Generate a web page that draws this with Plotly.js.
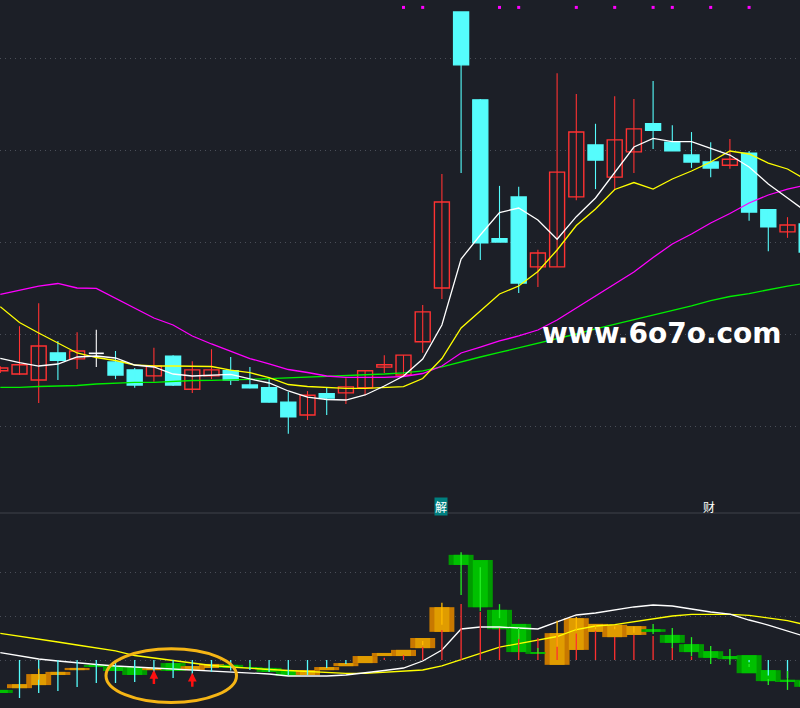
<!DOCTYPE html>
<html><head><meta charset="utf-8">
<script src="https://cdn.plot.ly/plotly-3.0.1.min.js"></script>
<style>html,body{margin:0;padding:0;background:#1c1f27;}#chart{width:800px;height:708px;}</style>
</head><body><div id="chart"></div>
<script>
// ---- data ----
const days = [0,1,2,3,4,5,6,7,8,9,10,11,12,13,14,15,16,17,18,19,20,21,22,23,24,25,26,27,28,29,30,31,32,33,34,35,36,37,38,39,40,41,42];
const openP  = [9.20,9.13,9.00,9.59,9.46,9.58,9.39,9.22,9.09,9.52,8.80,9.09,9.20,8.89,8.83,8.52,8.24,8.70,8.72,8.83,9.28,9.11,9.83,11.00,17.00,15.09,12.07,12.98,11.46,11.46,12.98,14.11,13.41,13.96,14.57,14.17,13.89,13.74,13.67,13.93,12.70,12.22,12.39];
const closeP = [9.26,9.33,9.74,9.43,9.63,9.58,9.11,8.89,9.30,8.89,9.22,9.22,9.00,8.83,8.52,8.20,8.67,8.61,8.85,9.20,9.33,9.54,10.48,12.87,15.85,11.98,12.00,11.11,11.76,13.52,14.39,13.78,14.22,14.46,14.43,13.98,13.74,13.61,13.80,12.65,12.33,12.37,11.78];
const highP  = [9.30,10.17,10.67,9.85,10.04,10.09,9.63,9.26,9.70,9.54,9.41,9.67,9.50,9.28,9.04,8.74,8.76,8.85,9.04,9.20,9.54,9.54,10.63,13.48,17.00,15.11,13.22,13.20,11.83,15.67,15.22,14.57,15.17,15.11,15.50,14.54,14.39,14.17,14.24,13.98,12.70,12.54,12.52];
const lowP   = [9.15,9.11,8.50,9.00,9.24,9.28,9.02,8.83,8.96,8.87,8.72,9.02,8.89,8.82,8.51,7.83,8.13,8.24,8.48,8.67,9.15,9.11,9.59,10.76,13.50,11.61,12.00,10.89,11.02,11.46,12.91,13.15,13.13,13.50,14.02,13.98,13.61,13.41,13.59,12.46,11.80,12.09,11.65];

const ma5  = [9.472,9.376,9.304,9.348,9.500,9.522,9.478,9.326,9.283,9.130,9.087,9.098,9.124,9.022,8.935,8.761,8.630,8.576,8.565,8.674,8.870,9.087,9.457,10.196,11.630,12.152,12.641,12.739,12.478,12.059,12.550,12.957,13.522,14.065,14.254,14.180,14.180,14.043,13.891,13.630,13.261,12.957,12.652];
const ma10 = [10.593,10.250,10.022,9.804,9.587,9.489,9.424,9.326,9.304,9.304,9.304,9.293,9.217,9.159,9.054,8.902,8.859,8.833,8.820,8.820,8.841,8.854,9.033,9.467,10.130,10.500,10.870,11.043,11.359,11.826,12.359,12.717,13.141,13.293,13.152,13.370,13.543,13.739,13.978,13.913,13.717,13.587,13.348];
const ma20 = [10.863,10.957,11.043,11.098,11.000,10.993,10.783,10.565,10.348,10.196,9.957,9.783,9.620,9.467,9.348,9.228,9.163,9.087,9.059,9.059,9.059,9.076,9.141,9.304,9.587,9.717,9.848,9.957,10.087,10.304,10.565,10.826,11.076,11.348,11.663,11.957,12.174,12.413,12.620,12.848,13.022,13.152,13.239];
const ma60 = [8.841,8.841,8.859,8.863,8.880,8.913,8.935,8.950,8.950,8.972,8.989,8.993,9.011,9.015,9.028,9.043,9.059,9.080,9.087,9.102,9.130,9.157,9.196,9.283,9.398,9.500,9.598,9.696,9.804,9.902,10.000,10.109,10.207,10.304,10.413,10.511,10.609,10.728,10.815,10.880,10.967,11.043,11.109];

const signalDays = [21,22,26,27,30,32,34,35,37,39];
const signalLevel = [17.10,17.10,17.10,17.10,17.10,17.10,17.10,17.10,17.10,17.10];

// lower indicator
const indOpen  = [-0.68,-0.64,-0.57,-0.34,-0.23,-0.11,-0.14,-0.16,-0.23,-0.07,-0.23,-0.18,-0.11,-0.16,-0.18,-0.25,-0.34,-0.23,-0.14,-0.07,0.09,0.09,0.27,0.64,2.39,2.27,1.14,0.82,0.18,-0.11,0.23,0.64,0.52,0.57,0.70,0.57,0.36,0.20,0.09,0.11,-0.23,-0.45,-0.48];
const indClose = [-0.75,-0.55,-0.32,-0.27,-0.18,-0.16,-0.25,-0.34,-0.18,-0.25,-0.14,-0.09,-0.18,-0.18,-0.27,-0.36,-0.23,-0.16,-0.07,0.09,0.16,0.23,0.50,1.20,2.16,1.20,0.70,0.18,0.14,0.61,0.95,0.82,0.80,0.77,0.64,0.39,0.18,0.05,0.02,-0.30,-0.48,-0.50,-0.61];
const indWickHi = [null,null,-0.20,null,null,null,null,null,null,null,null,null,null,-0.06,null,null,null,null,null,null,null,null,0.43,1.30,2.45,2.11,1.27,0.73,0.27,0.89,0.98,0.80,0.76,0.76,0.82,0.73,0.52,0.32,0.25,-0.09,-0.43,-0.25,null];
const indWickLo = [null,null,-0.45,null,null,null,null,null,null,null,null,null,null,-0.16,null,null,null,null,null,null,null,null,0.34,0.80,1.48,1.11,0.95,0.48,0.14,0.30,0.66,0.70,0.70,0.62,0.59,0.27,0.09,-0.09,-0.11,-0.16,-0.57,-0.68,null];
const histo = [null,-0.864,-0.75,-0.705,-0.614,-0.523,-0.523,-0.5,-0.36,-0.41,-0.34,-0.27,-0.24,-0.23,-0.27,-0.34,-0.34,-0.18,-0.09,0,0.05,0.114,0.295,0.682,1.273,1.091,0.727,0.6,0.5,0.55,0.6,0.66,0.523,0.568,0.545,0.3,0.08,0,0,-0.05,-0.35,-0.41,-0.45];
const indLineW = [0.170,0.091,0.023,-0.023,-0.068,-0.102,-0.136,-0.159,-0.182,-0.205,-0.220,-0.239,-0.261,-0.284,-0.318,-0.364,-0.364,-0.364,-0.341,-0.295,-0.239,-0.182,-0.023,0.227,0.705,0.750,0.750,0.727,0.705,0.864,1.023,1.068,1.136,1.205,1.250,1.227,1.159,1.091,1.045,0.909,0.795,0.659,0.523];
const indLineY = [0.607,0.545,0.477,0.409,0.341,0.273,0.205,0.102,0.045,-0.023,-0.080,-0.125,-0.159,-0.193,-0.216,-0.239,-0.261,-0.295,-0.302,-0.302,-0.273,-0.250,-0.227,-0.136,0.011,0.166,0.295,0.370,0.455,0.534,0.693,0.773,0.802,0.870,0.939,1.000,1.039,1.039,1.039,1.016,0.961,0.893,0.795];

const arrowDays = [8,10];
const arrowTips = [-0.227,-0.289];

// ---- styles ----
const BG = '#1c1f27';
const RED = '#ff3232', CYAN = '#55fcfc';
const traces = [];

function wick(ids, color){
  const x=[],y=[];
  ids.forEach(i=>{x.push(days[i],days[i],null);y.push(highP[i],lowP[i],null);});
  return {type:'scatter',mode:'lines',x,y,xaxis:'x',yaxis:'y',line:{color,width:1.1},hoverinfo:'skip',showlegend:false};
}
const upI=[],dnI=[],djI=[];
days.forEach(i=>{ if(closeP[i]>openP[i]) upI.push(i); else if(closeP[i]<openP[i]) dnI.push(i); else djI.push(i); });
traces.push(wick(upI,RED), wick(dnI,CYAN), wick(djI,'#ffffff'));
function body(ids, fill, line){
  return {type:'bar',x:ids.map(i=>days[i]),y:ids.map(i=>Math.abs(closeP[i]-openP[i])),base:ids.map(i=>Math.min(openP[i],closeP[i])),
    width:0.78,xaxis:'x',yaxis:'y',marker:{color:fill,line:{color:line,width:1.4}},hoverinfo:'skip',showlegend:false};
}
traces.push(body(upI,BG,RED), body(dnI,CYAN,CYAN));
(function(){const x=[],y=[];djI.forEach(i=>{x.push(days[i]-0.39,days[i]+0.39,null);y.push(openP[i],openP[i],null);});
 traces.push({type:'scatter',mode:'lines',x,y,line:{color:'#ffffff',width:1.6},hoverinfo:'skip',showlegend:false});})();

[[ma60,'#00ee00'],[ma20,'#ff00ff'],[ma10,'#ffff00'],[ma5,'#ffffff']].forEach(([d,c])=>{
  traces.push({type:'scatter',mode:'lines',x:days,y:d,xaxis:'x',yaxis:'y',line:{color:c,width:1.3},hoverinfo:'skip',showlegend:false});
});
traces.push({type:'scatter',mode:'markers',x:signalDays,y:signalLevel,marker:{symbol:'square',size:3,color:'#ff00ff'},hoverinfo:'skip',showlegend:false});

traces.push({type:'scatter',mode:'lines',x:days,y:indLineY,xaxis:'x',yaxis:'y2',line:{color:'#ffff00',width:1.3},hoverinfo:'skip',showlegend:false});
traces.push({type:'scatter',mode:'lines',x:days,y:indLineW,xaxis:'x',yaxis:'y2',line:{color:'#ffffff',width:1.3},hoverinfo:'skip',showlegend:false});
(function(){const xr=[],yr=[],xc=[],yc=[];
 days.forEach(i=>{const v=histo[i]; if(v===null||v===0) return; if(v>0){xr.push(days[i],days[i],null);yr.push(0,v,null);} else {xc.push(days[i],days[i],null);yc.push(0,v,null);} });
 traces.push({type:'scatter',mode:'lines',x:xr,y:yr,xaxis:'x',yaxis:'y2',line:{color:'#ff3030',width:1.3},hoverinfo:'skip',showlegend:false});
 traces.push({type:'scatter',mode:'lines',x:xc,y:yc,xaxis:'x',yaxis:'y2',line:{color:CYAN,width:1.3},hoverinfo:'skip',showlegend:false});
})();
const isUp = days.map(i=>indClose[i]>=indOpen[i]);
traces.push({type:'bar',x:days,y:days.map(i=>Math.abs(indClose[i]-indOpen[i])),base:days.map(i=>Math.min(indOpen[i],indClose[i])),
  width:1.30,xaxis:'x',yaxis:'y2',marker:{color:days.map(i=>isUp[i]?'#c87800':'#009a00'),line:{width:0}},hoverinfo:'skip',showlegend:false});
traces.push({type:'bar',x:days,y:days.map(i=>Math.abs(indClose[i]-indOpen[i])),base:days.map(i=>Math.min(indOpen[i],indClose[i])),
  width:0.78,xaxis:'x',yaxis:'y2',marker:{color:days.map(i=>isUp[i]?'#e09c00':'#00c000'),line:{width:0}},hoverinfo:'skip',showlegend:false});
(function(){const xo=[],yo=[],xg=[],yg=[];
 days.forEach(i=>{ if(indWickHi[i]===null) return; if(isUp[i]){xo.push(days[i],days[i],null);yo.push(indWickHi[i],indWickLo[i],null);} else {xg.push(days[i],days[i],null);yg.push(indWickHi[i],indWickLo[i],null);} });
 traces.push({type:'scatter',mode:'lines',x:xo,y:yo,xaxis:'x',yaxis:'y2',line:{color:'#ffbb00',width:1.3},hoverinfo:'skip',showlegend:false});
 traces.push({type:'scatter',mode:'lines',x:xg,y:yg,xaxis:'x',yaxis:'y2',line:{color:'#22ee22',width:1.3},hoverinfo:'skip',showlegend:false});
})();

const split = (708-513)/708;
const gridDots = '1px,4px';
const layout = {
  width:800,height:708,margin:{l:0,r:0,t:0,b:0},
  paper_bgcolor:BG,plot_bgcolor:BG,barmode:'overlay',showlegend:false,
  xaxis:{range:[-0.3/19.2,799.7/19.2],showgrid:false,zeroline:false,showticklabels:false,showline:false,ticks:'',fixedrange:true},
  yaxis:{domain:[split,1],range:[6.1087,17.2609],tickvals:[8,10,12,14,16],showticklabels:false,ticks:'',zeroline:false,
    showgrid:true,gridcolor:'#4a4e58',gridwidth:1,griddash:gridDots},
  yaxis2:{domain:[0,split],range:[-1.0909,3.3409],tickvals:[0,1,2],showticklabels:false,ticks:'',zeroline:false,
    showgrid:true,gridcolor:'#4a4e58',gridwidth:1,griddash:gridDots},
  shapes:[
    {type:'line',xref:'paper',yref:'paper',x0:0,x1:1,y0:split,y1:split,line:{color:'#3e424b',width:1}},
    {type:'circle',xref:'paper',yref:'paper',x0:106/800,x1:236.5/800,y0:1-702.5/708,y1:1-648.8/708,line:{color:'#f5b515',width:3}}
  ],
  annotations:[
    {xref:'paper',yref:'paper',x:662/800,y:1-333/708,text:'<b>www.6o7o.com</b>',showarrow:false,
      font:{family:'DejaVu Sans',size:28,color:'#ffffff'},xanchor:'center',yanchor:'middle'},
    {xref:'paper',yref:'paper',x:441/800,y:1-506/708,text:'解',showarrow:false,bgcolor:'#007f7f',borderpad:0,
      font:{family:'Noto Sans CJK SC',size:12,color:'#ffffff'},xanchor:'center',yanchor:'middle'},
    {xref:'paper',yref:'paper',x:709/800,y:1-506/708,text:'财',showarrow:false,
      font:{family:'Noto Sans CJK SC',size:12,color:'#ffffff'},xanchor:'center',yanchor:'middle'}
  ].concat(arrowDays.map((d,k)=>({x:d,y:arrowTips[k],xref:'x',yref:'y2',ax:0,ay:15,text:' ',font:{size:1},borderpad:0,showarrow:true,
      arrowhead:2,arrowsize:0.7,arrowwidth:2.5,arrowcolor:'#ff1010'})))
};
Plotly.newPlot('chart',traces,layout,{displayModeBar:false,staticPlot:true});
</script></body></html>
